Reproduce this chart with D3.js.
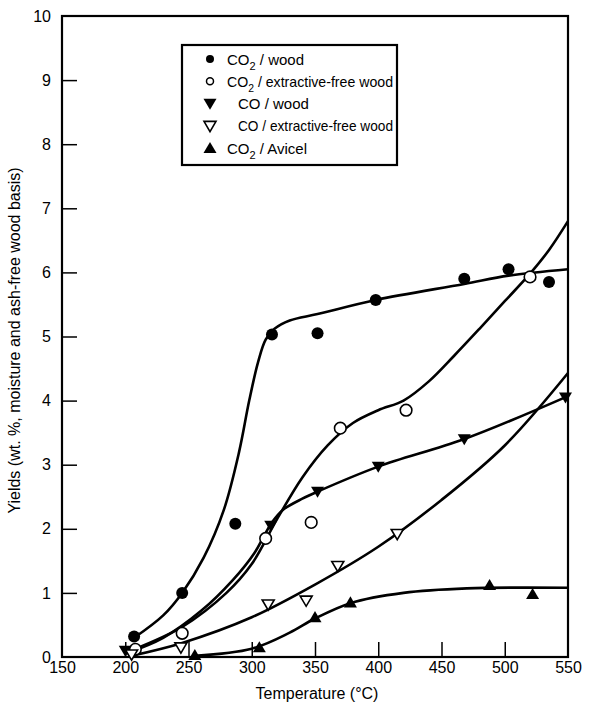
<!DOCTYPE html>
<html><head><meta charset="utf-8">
<script src="https://cdn.jsdelivr.net/npm/d3@7"></script>
<style>body{margin:0;background:#fff}text{font-family:"Liberation Sans",Arial,sans-serif;fill:#000}</style>
</head><body><svg id="c" width="613" height="706"></svg>
<script>
// ---- data ----
const xTicks = [150,200,250,300,350,400,450,500,550];
const yTicks = [0,1,2,3,4,5,6,7,8,9,10];
// measured points [T, yield]
const co2Wood   = [[207,0.32],[245,1.0],[287,2.08],[316,5.03],[352,5.05],[398,5.57],[468,5.9],[503,6.05],[535,5.85]];
const co2Free   = [[208,0.12],[245,0.37],[311,1.85],[347,2.1],[370,3.57],[422,3.85],[520,5.93]];
const coWood    = [[200,0.1],[315,2.05],[352,2.58],[400,2.97],[468,3.4],[548,4.05]];
const coFree    = [[205,0.04],[244,0.15],[313,0.82],[343,0.88],[368,1.42],[415,1.92]];
const co2Avicel = [[255,0.03],[306,0.15],[350,0.62],[378,0.85],[488,1.12],[522,0.98]];
// hand-drawn fitted curves
const fitCo2Wood   = [[207,0.3],[230,0.65],[245,1.0],[262,1.55],[278,2.3],[290,3.2],[298,4.0],[305,4.6],[311,4.95],[318,5.12],[330,5.25],[352,5.35],[398,5.57],[468,5.82],[503,5.95],[550,6.05]];
const fitCo2Free   = [[207,0.12],[245,0.47],[280,1.0],[300,1.45],[320,2.15],[340,2.8],[360,3.3],[380,3.65],[400,3.85],[420,4.0],[440,4.3],[460,4.7],[480,5.12],[500,5.55],[520,5.98],[535,6.35],[550,6.8]];
const fitCoWood    = [[200,0.05],[230,0.3],[260,0.72],[285,1.2],[302,1.62],[310,1.9],[316,2.1],[325,2.3],[340,2.47],[352,2.58],[400,2.97],[468,3.4],[550,4.07]];
const fitCoFree    = [[205,0.02],[245,0.22],[300,0.62],[350,1.13],[400,1.72],[450,2.45],[500,3.3],[550,4.43]];
const fitAvicel    = [[255,0.02],[300,0.13],[330,0.38],[350,0.6],[378,0.84],[420,1.0],[470,1.07],[550,1.08]];
const legendLabels = [["CO","2"," / wood"],["CO","2"," / extractive-free wood"],["CO",""," / wood"],["CO",""," / extractive-free wood"],["CO","2"," / Avicel"]];
const xTitle = "Temperature (°C)";
const yTitle = "Yields (wt. %, moisture and ash-free wood basis)";

// ---- drawing ----
const svg = d3.select("#c");
const L=62, R=568, T=16, B=657;
const x = d3.scaleLinear().domain([150,550]).range([L,R]);
const y = d3.scaleLinear().domain([0,10]).range([B,T]);

// frame
svg.append("rect").attr("x",L).attr("y",T).attr("width",R-L).attr("height",B-T)
  .attr("fill","none").attr("stroke","#000").attr("stroke-width",2.2);
// inward ticks
const gl = svg.append("g").attr("transform",`translate(${L},0)`)
  .call(d3.axisLeft(y).tickValues(yTicks).tickSize(-15).tickPadding(11).tickFormat(d3.format("d")));
gl.select(".domain").remove();
gl.selectAll(".tick line").attr("stroke-width",1.5).filter(d=>d===0||d===10).remove();
gl.selectAll("text").style("font-size","16px").attr("font-family","Liberation Sans, Arial, sans-serif");
const gb = svg.append("g").attr("transform",`translate(0,${B})`)
  .call(d3.axisBottom(x).tickValues(xTicks).tickSize(-15).tickPadding(5).tickFormat(d3.format("d")));
gb.select(".domain").remove();
gb.selectAll(".tick line").attr("stroke-width",1.5).filter(d=>d===150||d===550).remove();
gb.selectAll("text").style("font-size","16px").attr("font-family","Liberation Sans, Arial, sans-serif");

svg.append("text").attr("x",(L+R)/2+2).attr("y",699).attr("text-anchor","middle").style("font-size","16px").text(xTitle);
svg.append("text").attr("transform",`translate(20,${(T+B)/2+4}) rotate(-90)`).attr("text-anchor","middle").style("font-size","16px").text(yTitle);

// curves
const line = d3.line().x(d=>x(d[0])).y(d=>y(d[1])).curve(d3.curveCatmullRom.alpha(0.5));
[fitCo2Wood,fitCo2Free,fitCoWood,fitCoFree,fitAvicel].forEach(c=>{
  svg.append("path").datum(c).attr("d",line).attr("fill","none").attr("stroke","#000").attr("stroke-width",2.6);
});

// markers
function tri(down,s){ return down ? `M${-s},${-s*0.75}L${s},${-s*0.75}L0,${s*0.95}Z` : `M${-s},${s*0.75}L${s},${s*0.75}L0,${-s*0.95}Z`; }
function marker(g,type,cx,cy){
  if(type===0) g.append("circle").attr("cx",cx).attr("cy",cy).attr("r",6).attr("fill","#000");
  if(type===1) g.append("circle").attr("cx",cx).attr("cy",cy).attr("r",5.8).attr("fill","#fff").attr("stroke","#000").attr("stroke-width",1.6);
  if(type===2) g.append("path").attr("d",tri(true,6.5)).attr("transform",`translate(${cx},${cy})`).attr("fill","#000");
  if(type===3) g.append("path").attr("d",tri(true,6)).attr("transform",`translate(${cx},${cy})`).attr("fill","#fff").attr("stroke","#000").attr("stroke-width",1.6);
  if(type===4) g.append("path").attr("d",tri(false,6.5)).attr("transform",`translate(${cx},${cy})`).attr("fill","#000");
}
const mg = svg.append("g");
[co2Wood,co2Free,coWood,coFree,co2Avicel].forEach((s,i)=>s.forEach(d=>marker(mg,i,x(d[0]),y(d[1]))));

// legend
const lg = svg.append("g");
lg.append("rect").attr("x",182).attr("y",45).attr("width",215).attr("height",120).attr("fill","#fff").attr("stroke","#000").attr("stroke-width",2.2);
legendLabels.forEach((lab,i)=>{
  const cy = 59 + i*22.3;
  if(i===0) lg.append("circle").attr("cx",210).attr("cy",cy).attr("r",4).attr("fill","#000");
  if(i===1) lg.append("circle").attr("cx",210).attr("cy",cy).attr("r",3.5).attr("fill","#fff").attr("stroke","#000").attr("stroke-width",1.5);
  if(i===2) marker(lg,2,210,cy);
  if(i===3) marker(lg,3,210,cy);
  if(i===4) marker(lg,4,210,cy);
  const t = lg.append("text").attr("x",lab[1]?227:238).attr("y",cy+5.5).style("font-size","15px")
    .attr("textLength",null);
  t.append("tspan").text(lab[0]);
  if(lab[1]) t.append("tspan").attr("dy",5).style("font-size","11px").text(lab[1]);
  t.append("tspan").attr("dy",lab[1]?-5:0).text(lab[2]);
});
// keep the longest legend rows inside the box, as in the reference
lg.selectAll("text").each(function(){
  const w=this.getComputedTextLength(), x0=+this.getAttribute("x"), maxW=393-x0;
  if(w>maxW){ this.setAttribute("textLength",maxW); this.setAttribute("lengthAdjust","spacingAndGlyphs"); }
});
</script></body></html>
